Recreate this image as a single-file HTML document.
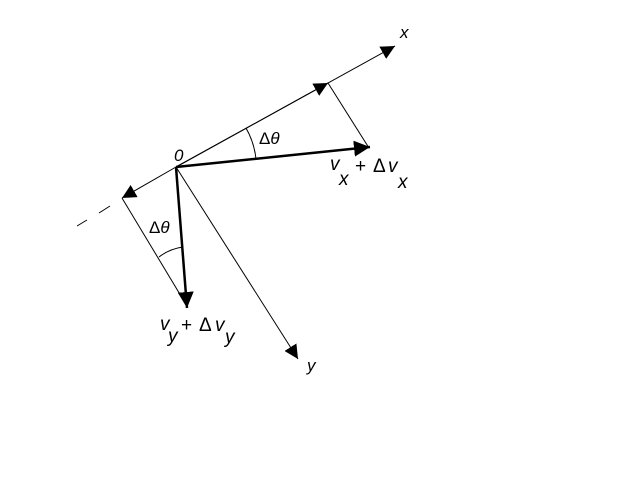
<!DOCTYPE html>
<html><head><meta charset="utf-8"><style>
html,body{margin:0;padding:0;background:#fff;width:640px;height:480px;overflow:hidden}
text{font-family:"Liberation Sans",sans-serif;fill:#000}
</style></head><body>
<svg width="640" height="480" viewBox="0 0 640 480" xmlns="http://www.w3.org/2000/svg">
<defs>
<marker id="a" viewBox="0 0 10 10" refX="10" refY="5" markerWidth="14" markerHeight="14" markerUnits="userSpaceOnUse" orient="auto"><path d="M0,0L10,5L0,10z" fill="#000"/></marker>
<marker id="b" viewBox="0 0 10 10" refX="10" refY="5" markerWidth="16" markerHeight="16" markerUnits="userSpaceOnUse" orient="auto"><path d="M0,0L10,5L0,10z" fill="#000"/></marker>
</defs>
<g stroke="#000" fill="none">
<line x1="176" y1="167" x2="395" y2="46" stroke-width="1" marker-end="url(#a)"/>
<line x1="176" y1="167" x2="328" y2="83" stroke-width="1" marker-end="url(#a)"/>
<line x1="176" y1="167" x2="122" y2="198" stroke-width="1" marker-end="url(#a)"/>
<line x1="77" y1="226" x2="87" y2="220" stroke-width="1"/>
<line x1="99" y1="213" x2="110" y2="206" stroke-width="1"/>
<line x1="176" y1="167" x2="298" y2="359" stroke-width="1" marker-end="url(#a)"/>
<line x1="328" y1="83" x2="369" y2="148" stroke-width="1"/>
<line x1="122" y1="198" x2="187" y2="306" stroke-width="1"/>
<line x1="176" y1="167" x2="370" y2="147" stroke-width="2.5" marker-end="url(#b)"/>
<line x1="176" y1="167" x2="187" y2="308" stroke-width="2.5" marker-end="url(#b)"/>
<path d="M246,128 A80,80 0 0 1 256,159" stroke-width="1"/>
<path d="M159,257 A50,50 0 0 1 183,247" stroke-width="1"/>
</g>
<text x="400" y="38" font-size="17" font-style="italic">x</text>
<text x="307" y="371" font-size="17" font-style="italic">y</text>
<text x="174" y="161" font-size="17" font-style="italic">0</text>
<text x="259" y="144" font-size="17">Δ<tspan font-style="italic">θ</tspan></text>
<text x="149" y="233" font-size="17">Δ<tspan font-style="italic">θ</tspan></text>
<text x="330" y="170" font-size="19" font-style="italic">v</text>
<text x="339" y="185" font-size="19" font-style="italic">x</text>
<text x="355" y="172" font-size="19">+</text>
<text x="373" y="172" font-size="19">Δ</text>
<text x="388" y="172" font-size="19" font-style="italic">v</text>
<text x="398" y="188" font-size="19" font-style="italic">x</text>
<text x="160" y="330" font-size="19" font-style="italic">v</text>
<text x="168" y="342" font-size="19" font-style="italic">y</text>
<text x="181" y="331" font-size="19">+</text>
<text x="199" y="331" font-size="19">Δ</text>
<text x="215" y="331" font-size="19" font-style="italic">v</text>
<text x="225" y="343" font-size="19" font-style="italic">y</text>
</svg>
</body></html>
